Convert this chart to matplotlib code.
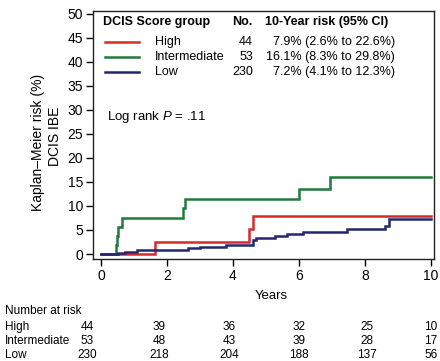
import matplotlib
matplotlib.use("Agg")
import matplotlib.pyplot as plt
from matplotlib.lines import Line2D

plt.rcParams['font.family'] = ['Liberation Sans', 'DejaVu Sans']
plt.rcParams['mathtext.fontset'] = 'custom'
plt.rcParams['mathtext.rm'] = 'Liberation Sans'
plt.rcParams['mathtext.it'] = 'Liberation Sans:italic'

# ---- data ----
groups = ["High", "Intermediate", "Low"]
group_n = [44, 53, 230]
group_risk = ["7.9% (2.6% to 22.6%)", "16.1% (8.3% to 29.8%)", "7.2% (4.1% to 12.3%)"]

high_t = [0, 1.64, 4.50, 4.60, 10.0]
high_r = [0, 2.6, 5.2, 7.9, 7.9]

inter_t = [0, 0.45, 0.48, 0.52, 0.63, 2.48, 2.55, 6.00, 6.94, 10.0]
inter_r = [0, 1.9, 3.8, 5.7, 7.6, 9.5, 11.4, 13.6, 16.1, 16.1]

low_t = [0, 0.52, 0.73, 1.08, 2.64, 3.00, 3.80, 4.60, 4.70, 5.27, 5.63, 6.12, 7.45, 8.60, 8.72, 10.0]
low_r = [0, 0.3, 0.5, 0.85, 1.2, 1.5, 1.9, 2.9, 3.3, 3.75, 4.2, 4.6, 5.2, 5.9, 7.2, 7.2]

risk_times = [0, 2, 4, 6, 8, 10]
at_risk_high = [44, 39, 36, 32, 25, 10]
at_risk_inter = [53, 48, 43, 39, 28, 17]
at_risk_low = [230, 218, 204, 188, 137, 56]

colors = ["#d42a2a", "#1f7a3c", "#24276e"]

W, H = 440, 361
fig = plt.figure(figsize=(W / 100, H / 100), dpi=100)

def fx(px):
    return px / W

def fy(py):
    return 1 - py / H

ax = fig.add_axes([fx(93), fy(259), fx(434) - fx(93), fy(11) - fy(259)])
for t, r, c in zip([high_t, inter_t, low_t], [high_r, inter_r, low_r], colors):
    ax.step(t, r, where="post", color=c, lw=1.8, solid_joinstyle="miter")

ax.set_xlim(-0.24, 10.09)
ax.set_ylim(-1.04, 50.6)
ax.set_xticks(risk_times)
ax.set_yticks(range(0, 51, 5))
ax.tick_params(axis="both", labelsize=10, length=5, width=1, direction="out", pad=2)
for s in ax.spines.values():
    s.set_linewidth(1.0)
    s.set_color("#222222")

# y labels
fig.text(fx(38), fy(142), "Kaplan–Meier risk (%)", rotation=90, ha="center", va="center", fontsize=10)
fig.text(fx(55), fy(136), "DCIS IBE", rotation=90, ha="center", va="center", fontsize=10)
fig.text(fx(271), fy(296), "Years", ha="center", va="center", fontsize=9.5)

# legend
fig.text(fx(103), fy(22), "DCIS Score group", ha="left", va="center", fontsize=9, fontweight="bold")
fig.text(fx(232), fy(22), "No.", ha="left", va="center", fontsize=9, fontweight="bold")
fig.text(fx(265), fy(22), "10-Year risk (95% CI)", ha="left", va="center", fontsize=9, fontweight="bold")
for i, (g, n, rk, c) in enumerate(zip(groups, group_n, group_risk, colors)):
    y = 42 + 15 * i
    fig.add_artist(Line2D([fx(105), fx(139)], [fy(y), fy(y)], color=c, lw=1.8, transform=fig.transFigure))
    fig.text(fx(155), fy(y), g, ha="left", va="center", fontsize=9)
    fig.text(fx(253), fy(y), str(n), ha="right", va="center", fontsize=9)
    fig.text(fx(395), fy(y), rk, ha="right", va="center", fontsize=9)

fig.text(fx(107), fy(117), "Log rank $P$ = .11", ha="left", va="center", fontsize=9.5)

# number at risk table
fig.text(fx(5), fy(311), "Number at risk", ha="left", va="center", fontsize=8.5)
col_x = [87, 159, 229, 299, 367, 431]
for j, (g, vals) in enumerate(zip(groups, [at_risk_high, at_risk_inter, at_risk_low])):
    y = 327 + 14 * j
    fig.text(fx(5), fy(y), g, ha="left", va="center", fontsize=8.5)
    for x, v in zip(col_x, vals):
        fig.text(fx(x), fy(y), str(v), ha="center", va="center", fontsize=8.5)

fig.savefig("out.png", dpi=100)
